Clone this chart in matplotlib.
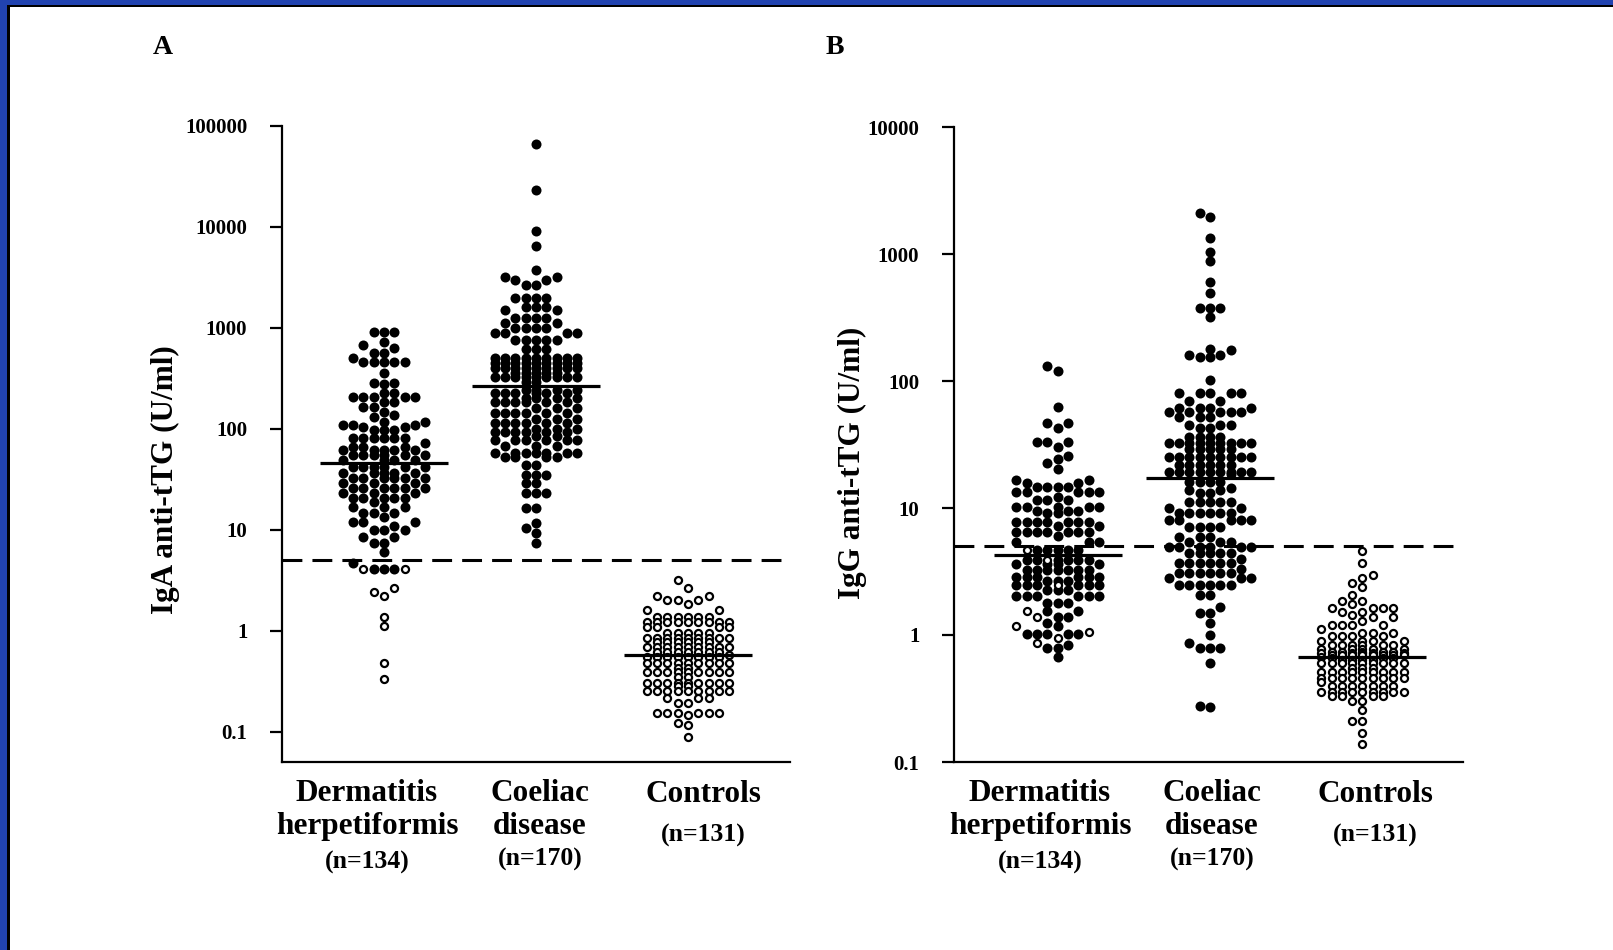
import numpy as np
import matplotlib
matplotlib.use('Agg')
import matplotlib.pyplot as plt
from matplotlib.patches import Rectangle

plt.rcParams['font.family'] = ['Liberation Serif', 'DejaVu Serif']
plt.rcParams['font.weight'] = 'bold'

W, H = 1613, 950

# categories
groups = ['Dermatitis\nherpetiformis', 'Coeliac\ndisease', 'Controls']
group_n = ['(n=134)', '(n=170)', '(n=131)']
cutoff = 5

# ---- Panel A: IgA anti-tTG (value + how many dots) ----
a_dh_vals = [900, 720, 680, 630, 565, 505, 460, 357, 285, 275, 227, 207, 185, 165, 147, 138, 130,
             117, 110, 105, 98, 81, 72, 66, 62, 55, 49, 42, 36.5, 32.6, 29, 26, 23, 20.8, 19,
             16.9, 14.7, 13.5, 12, 11, 10, 8.5, 7.4, 6.0, 4.7, 4.1]
a_dh_counts = [3, 1, 1, 1, 2, 1, 5, 1, 2, 1, 2, 5, 2, 2, 1, 1, 1, 2, 3, 2, 3, 6, 1, 3, 5, 6, 4,
               6, 5, 6, 3, 6, 3, 5, 1, 3, 3, 1, 3, 1, 3, 2, 2, 1, 1, 3]
a_dh_open = [4.1, 4.1, 2.67, 2.43, 2.22, 1.37, 1.12, 0.48, 0.335]

a_cd_vals = [65700, 23200, 9160, 6480, 3750, 3220, 2990, 2680, 1990, 1620, 1500, 1260, 1120, 1000,
             890, 760, 620, 505, 450, 400, 360, 326, 290, 240, 227, 200, 185, 160, 144, 125, 114,
             100, 93, 85, 78, 68, 58, 52, 44, 35, 29, 23, 16.5, 11.7, 10.4, 9.3, 7.4]
a_cd_counts = [1, 1, 1, 1, 1, 2, 2, 2, 4, 3, 2, 4, 2, 4, 4, 5, 3, 9, 9, 9, 5, 9, 2,
               4, 6, 4, 6, 3, 6, 3, 6, 3, 6, 2, 6, 3, 7, 4, 2, 3, 2, 3, 2, 1, 1, 1, 1]

a_ct_vals = [3.15, 2.66, 2.22, 2.03, 1.85, 1.61, 1.38, 1.23, 1.1, 0.95, 0.85, 0.77, 0.695, 0.62, 0.58,
             0.55, 0.48, 0.43, 0.39, 0.35, 0.305, 0.28, 0.25, 0.215, 0.19, 0.154, 0.145, 0.123,
             0.115, 0.089]
a_ct_counts = [1, 1, 2, 3, 1, 2, 6, 9, 4, 5, 9, 6, 9, 7, 1,
               8, 9, 2, 9, 2, 9, 2, 9, 3, 2, 6, 1, 1, 1, 1]

# ---- Panel B: IgG anti-tTG ----
b_dh_vals = [131, 120, 62, 46.8, 42.6, 33.3, 30, 25.7, 24.5, 22.6, 20.3, 16.6, 15.7, 14.6, 13.3,
             12.3, 11.6, 10.2, 9.5, 9.1, 7.8, 7.2, 6.46, 6.0, 5.4, 4.66,
             3.9, 3.6, 3.25, 2.86, 2.65, 2.48, 2.25, 2.03, 1.8, 1.55, 1.39, 1.25, 1.18, 1.02,
             0.83, 0.79, 0.675]
b_dh_counts = [1, 1, 1, 2, 1, 3, 1, 1, 1, 1, 1, 2, 2, 4, 5, 1, 3, 5, 3, 2, 7, 2, 7, 1, 3, 5,
               6, 4, 7, 6, 3, 6, 3, 6, 3, 2, 2, 1, 1, 5, 1, 2, 1]
b_dh_open = [4.66, 3.9, 2.48, 1.55, 1.39, 1.18, 1.05, 0.95, 0.87]

b_cd_vals = [2090, 1960, 1340, 1040, 885, 605, 495, 375, 320, 180, 175, 160, 155, 101, 80, 70, 61.6,
             57, 52, 45, 42.7, 36, 32.5, 29, 25.3, 21.8, 19.3, 18.5,
             16.1, 14.5, 13.8, 13.1, 11.2, 10, 9.1, 8.0, 7.1, 5.95, 5.4, 4.96, 4.42, 4.0, 3.69,
             3.3, 3.07, 2.8, 2.47, 2.06, 1.67, 1.49, 1.24, 1.0, 0.865, 0.79, 0.6, 0.277, 0.27]
b_cd_counts = [1, 1, 1, 1, 1, 1, 1, 3, 1, 1, 1, 2, 2, 1, 5, 2, 4, 5, 3, 3, 2, 4, 9, 5, 9, 6, 9, 1,
               4, 1, 2, 2, 5, 2, 6, 5, 4, 3, 3, 6, 5, 1, 6, 1, 6, 3, 6, 2, 1, 2, 1, 1, 1, 3, 1, 1, 1]

b_ct_vals = [4.61, 3.69, 2.97, 2.82, 2.57, 2.39, 2.06, 1.86, 1.75, 1.63, 1.52, 1.44, 1.38, 1.3, 1.2,
             1.12, 1.04, 0.98, 0.9, 0.83, 0.78, 0.74, 0.72, 0.7, 0.69, 0.675,
             0.66, 0.63, 0.6, 0.55, 0.51, 0.46, 0.43, 0.40, 0.358, 0.33, 0.30, 0.257, 0.211,
             0.17, 0.139]
b_ct_counts = [1, 1, 1, 1, 1, 1, 1, 2, 1, 4, 2, 1, 2, 1, 4, 1, 3, 4, 4, 6, 5, 5, 5, 4, 4, 1,
               3, 4, 9, 3, 9, 9, 1, 7, 9, 4, 2, 1, 2, 1, 1]


def px_box(l, t, r, b):
    return [l / W, 1 - b / H, (r - l) / W, (b - t) / H]


def swarm_x(ax, pos, vals, step=10.3, sep=0.8, maxk=4):
    # column beeswarm in pixel space, like the Prism dot plots
    vals = np.asarray(vals, dtype=float)
    pts = ax.transData.transform(np.column_stack([np.full(len(vals), pos), vals]))
    ypix = pts[:, 1]
    x0 = pts[0, 0]
    cols = {}
    offs = np.zeros(len(vals))
    cand = [0]
    for k in range(1, maxk + 1):
        cand += [-k, k]
    for i in np.argsort(ypix, kind='stable'):
        y = ypix[i]
        best, best_d = 0, -1
        for c in cand:
            used = cols.get(c, [])
            d = min([abs(y - u) for u in used], default=1e9)
            if d >= sep * step:
                best = c
                break
            if d > best_d:
                best, best_d = c, d
        cols.setdefault(best, []).append(y)
        offs[i] = best
    xy = np.column_stack([x0 + offs * step, ypix])
    return ax.transData.inverted().transform(xy)[:, 0]


fig = plt.figure(figsize=(W / 100, H / 100), dpi=100)
fig.patch.set_facecolor('white')

# slide frame
blue = '#2143b0'
fig.add_artist(Rectangle((0, 1 - 5 / H), 1, 5 / H, transform=fig.transFigure, color=blue, lw=0))
fig.add_artist(Rectangle((0, 1 - 7 / H), 1, 2 / H, transform=fig.transFigure, color='black', lw=0))
fig.add_artist(Rectangle((0, 0), 7 / W, 1, transform=fig.transFigure, color=blue, lw=0))
fig.add_artist(Rectangle((7 / W, 0), 3 / W, 1 - 5 / H, transform=fig.transFigure, color='black', lw=0))

axA = fig.add_axes(px_box(282, 126, 790, 762))
axB = fig.add_axes(px_box(954, 127, 1463, 762))

panels = [
    (axA, (0.05, 1e5), [0.1, 1, 10, 100, 1000, 10000, 100000],
     ['0.1', '1', '10', '100', '1000', '10000', '100000'], (0.33, 3.67),
     [(a_dh_vals, a_dh_counts, a_dh_open), (a_cd_vals, a_cd_counts, [])],
     (a_ct_vals, a_ct_counts)),
    (axB, (0.1, 1e4), [0.1, 1, 10, 100, 1000, 10000],
     ['0.1', '1', '10', '100', '1000', '10000'], (0.32, 3.66),
     [(b_dh_vals, b_dh_counts, b_dh_open), (b_cd_vals, b_cd_counts, [])],
     (b_ct_vals, b_ct_counts)),
]

for ax, ylim, ticks, tlabels, xlim, grp, ctl in panels:
    ax.set_yscale('log')
    ax.set_ylim(*ylim)
    ax.set_xlim(*xlim)
    ax.set_yticks(ticks)
    ax.set_yticklabels(tlabels, fontsize=15, fontweight='bold')
    ax.minorticks_off()
    ax.tick_params(axis='y', direction='out', length=9, width=1.6, pad=16)
    ax.tick_params(axis='x', bottom=False, labelbottom=False)
    for s in ['top', 'right']:
        ax.spines[s].set_visible(False)
    for s in ['left', 'bottom']:
        ax.spines[s].set_linewidth(1.6)
    ax.patch.set_alpha(0)

    sets = []
    for vals, counts, opn in grp:
        sets.append((np.repeat(vals, counts), np.asarray(opn, dtype=float)))
    sets.append((np.array([]), np.repeat(ctl[0], ctl[1])))

    for pos, (filled, opn) in enumerate(sets, start=1):
        allv = np.concatenate([filled, opn])
        xs = swarm_x(ax, pos, allv)
        nf = len(filled)
        ax.scatter(xs[:nf], filled, s=52, c='black', linewidths=0, zorder=3)
        ax.scatter(xs[nf:], opn, s=26, facecolors='white', edgecolors='black',
                   linewidths=1.6, zorder=3)
        ax.hlines(np.median(allv), pos - 0.42, pos + 0.42, color='black', lw=2.3, zorder=4)

    ax.axhline(cutoff, color='black', lw=2.2, ls=(0, (6.5, 3.3)), zorder=2)


def ftext(x, y, s, **kw):
    fig.text(x / W, 1 - y / H, s, ha='center', va='center', fontweight='bold', **kw)


ftext(163, 48, 'A', fontsize=20)
ftext(835, 48, 'B', fontsize=20)
ftext(165, 480, 'IgA anti-tTG (U/ml)', fontsize=22.5, rotation=90)
ftext(852, 463, 'IgG anti-tTG (U/ml)', fontsize=22.5, rotation=90)

for xs_lab in ([367, 540, 703], [1040, 1212, 1375]):
    ftext(xs_lab[0], 810, groups[0], fontsize=22.5, linespacing=1.2)
    ftext(xs_lab[1], 810, groups[1], fontsize=22.5, linespacing=1.2)
    ftext(xs_lab[2], 794, groups[2], fontsize=22.5)
    ftext(xs_lab[0], 862, group_n[0], fontsize=18.5)
    ftext(xs_lab[1], 859, group_n[1], fontsize=18.5)
    ftext(xs_lab[2], 835, group_n[2], fontsize=18.5)

fig.savefig('out.png', dpi=100)
